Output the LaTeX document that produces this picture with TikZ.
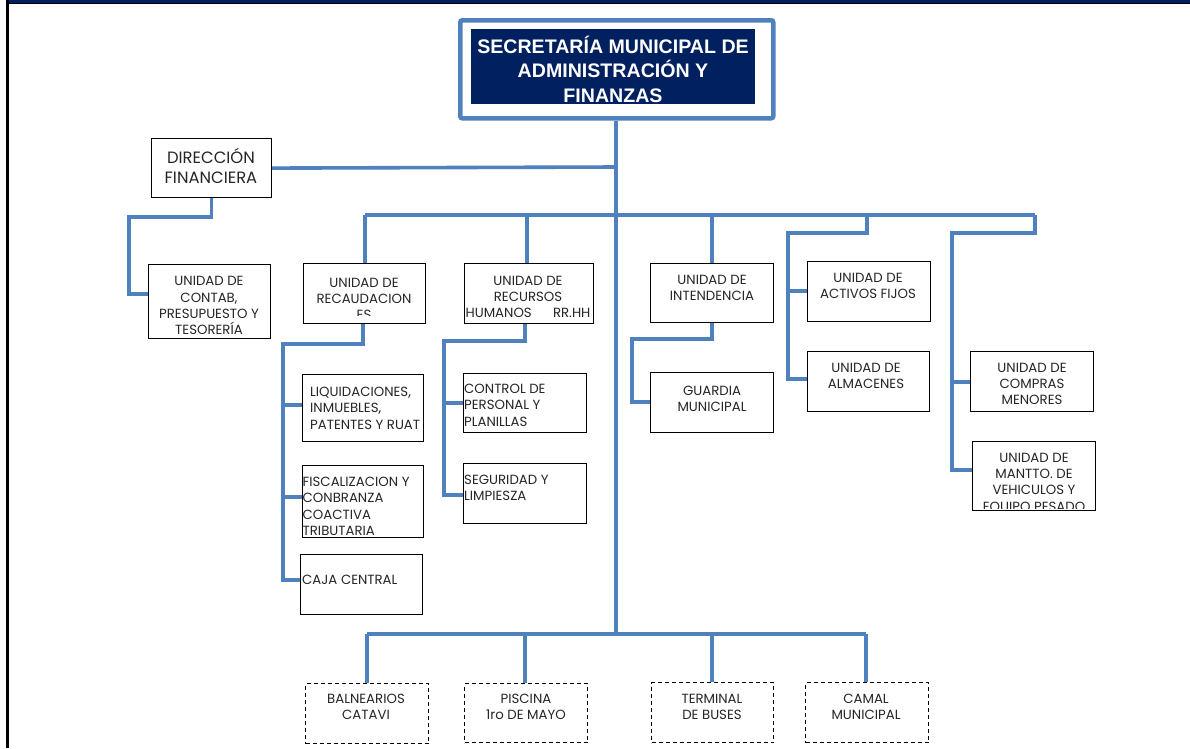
\documentclass[tikz,border=0pt]{standalone}
\usepackage{fontspec}
\setmainfont{Poppins}
\newfontfamily\headfont{Liberation Sans}
\definecolor{lineblue}{RGB}{79,129,189}
\definecolor{navy}{RGB}{0,32,96}
\begin{document}
\begin{tikzpicture}[x=1pt,y=-1pt,
  conn/.style={draw=lineblue,line width=3.6pt},
  box/.style={draw=black,line width=1.2pt,fill=white,inner sep=0pt,anchor=north west},
  dbox/.style={draw=black,line width=1.1pt,dash pattern=on 4pt off 3pt,fill=white,inner sep=0pt,anchor=north west},
  txt/.style={font=\fontsize{13.3}{16.2}\selectfont,align=center,inner sep=0pt,text=black!85},
  ltxt/.style={font=\fontsize{13.3}{16.2}\selectfont,align=left,inner sep=0pt,anchor=north west,text=black!85},
]
\useasboundingbox (0,0) rectangle (1190,748);
\fill[white] (0,0) rectangle (1190,748);
% page borders
\fill[navy] (7,0) rectangle (1190,2.5);
\fill[black] (7,2.5) rectangle (1190,4);
\fill[black] (5.5,0) rectangle (8.5,748);

% top box
\node[draw=lineblue,line width=4.5pt,rounded corners=2pt,minimum width=313,minimum height=98,inner sep=0pt,anchor=north west] (top) at (458,18) {};
\node[fill=navy,minimum width=284,minimum height=75,inner sep=0pt,anchor=north west] (topin) at (471,29) {};
\node[font=\headfont\bfseries\fontsize{19.6}{24.5}\selectfont,text=white,align=center,inner sep=0pt] (toptxt) at (613,69) {SECRETARÍA MUNICIPAL DE\\ADMINISTRACIÓN Y\\FINANZAS};

% coordinates
\coordinate (mbot) at (616,634);
\coordinate (dfj) at (616,167);
\coordinate (busL) at (365,215);
\coordinate (busR) at (1035,215);

% main connectors
\draw[conn] (top.south -| mbot) -- (mbot);
\draw[conn] (busL) -- (busR);
\draw[conn] (367,634) -- (866,634);

% Direccion Financiera
\node[box,minimum width=120,minimum height=59] (df) at (151,138) {};
\node[font=\fontsize{16.4}{19.5}\selectfont,align=center,inner sep=0pt,text=black!85] (dft) at (211,166) {DIRECCIÓN\\FINANCIERA};
\draw[conn] (df.east) -- (dfj);
\node[box,minimum width=122,minimum height=74] (cont) at (148,264) {};
\node[txt] (contt) at (209,305.5) {UNIDAD DE\\CONTAB,\\PRESUPUESTO Y\\TESORERÍA};
\draw[conn] (df.south) |- (129,217) -- (129,294) -- (cont.west |- 0,294);

% Recaudaciones
\node[box,minimum width=122,minimum height=60] (rec) at (303,263) {};
\begin{scope}
\clip (303,263) rectangle (425,315);
\node[txt,anchor=north] (rect) at (364,278) {UNIDAD DE\\RECAUDACION\\ES};
\end{scope}
\draw[conn] (busL) -- (rec.north -| busL);
\node[box,minimum width=121,minimum height=67] (liq) at (302,374) {};
\node[ltxt] (liqt) at (310,387) {LIQUIDACIONES,\\INMUEBLES,\\PATENTES Y RUAT};
\node[box,minimum width=121,minimum height=72] (fis) at (302,465) {};
\begin{scope}
\clip (302,465) rectangle (423,536);
\node[ltxt] (fist) at (302.5,477) {FISCALIZACION Y\\CONBRANZA\\COACTIVA\\TRIBUTARIA};
\end{scope}
\node[box,minimum width=122,minimum height=60] (caja) at (300,554) {};
\node[ltxt] (cajat) at (302,574.5) {CAJA CENTRAL};
\draw[conn] (rec.south -| 363,0) -- (363,344) -- (283,344) -- (283,580) -- (caja.west |- 0,580);
\draw[conn] (283,405) -- (liq.west |- 0,405);
\draw[conn] (283,497) -- (fis.west |- 0,497);

% RRHH
\node[box,minimum width=129,minimum height=60] (rh) at (464,263) {};
\node[txt] (rht) at (528,297) {UNIDAD DE\\RECURSOS\\HUMANOS\hspace{1.6em}RR.HH};
\draw[conn] (527,215) -- (rh.north -| 527,0);
\node[box,minimum width=123,minimum height=59] (ctrl) at (463,373) {};
\node[ltxt] (ctrlt) at (464,384) {CONTROL DE\\PERSONAL Y\\PLANILLAS};
\node[box,minimum width=123,minimum height=60] (seg) at (463,463) {};
\node[ltxt] (segt) at (464,475) {SEGURIDAD Y\\LIMPIESZA};
\draw[conn] (rh.south -| 525,0) -- (525,341) -- (444,341) -- (444,495) -- (seg.west |- 0,495);
\draw[conn] (444,403) -- (ctrl.west |- 0,403);

% Intendencia
\node[box,minimum width=123,minimum height=59] (int) at (650,263) {};
\node[txt] (intt) at (712,288) {UNIDAD DE\\INTENDENCIA};
\draw[conn] (712,215) -- (int.north -| 712,0);
\node[box,minimum width=123,minimum height=60] (gua) at (650,372) {};
\node[txt] (guat) at (712,398.5) {GUARDIA\\MUNICIPAL};
\draw[conn] (int.south -| 712,0) -- (712,339) -- (632,339) -- (632,402) -- (gua.west |- 0,402);

% Activos / Almacenes
\node[box,minimum width=123,minimum height=60] (act) at (807,261) {};
\node[txt] (actt) at (868,286) {UNIDAD DE\\ACTIVOS FIJOS};
\node[box,minimum width=122,minimum height=60] (alm) at (807,351) {};
\node[txt] (almt) at (866,376) {UNIDAD DE\\ALMACENES};
\draw[conn] (867,215) -- (867,233) -- (788,233) -- (788,379) -- (alm.west |- 0,379);
\draw[conn] (788,291) -- (act.west |- 0,291);

% Compras / Mantto
\node[box,minimum width=123,minimum height=60] (com) at (970,351) {};
\node[txt] (comt) at (1032,384) {UNIDAD DE\\COMPRAS\\MENORES};
\node[box,minimum width=123,minimum height=69] (man) at (972,441) {};
\begin{scope}
\clip (972,441) rectangle (1095,508);
\node[txt,anchor=north] (mant) at (1034,453) {UNIDAD DE\\MANTTO. DE\\VEHICULOS Y\\EQUIPO PESADO};
\end{scope}
\draw[conn] (busR) -- (1035,233) -- (952,233) -- (952,470) -- (man.west |- 0,470);
\draw[conn] (952,382) -- (com.west |- 0,382);

% bottom dashed boxes
\node[dbox,minimum width=123,minimum height=60] (bal) at (305,683) {};
\node[txt] (balt) at (366,707) {BALNEARIOS\\CATAVI};
\node[dbox,minimum width=123,minimum height=59] (pis) at (464,683) {};
\node[txt] (pist) at (526,707) {PISCINA\\1ro DE MAYO};
\node[dbox,minimum width=122,minimum height=60] (ter) at (651,682) {};
\node[txt] (tert) at (712,707) {TERMINAL\\DE BUSES};
\node[dbox,minimum width=123,minimum height=60] (cam) at (805,682) {};
\node[txt] (camt) at (866,707) {CAMAL\\MUNICIPAL};
\draw[conn] (367,634) -- (bal.north -| 367,0);
\draw[conn] (525,634) -- (pis.north -| 525,0);
\draw[conn] (712,634) -- (ter.north -| 712,0);
\draw[conn] (866,634) -- (cam.north -| 866,0);
\end{tikzpicture}
\end{document}
